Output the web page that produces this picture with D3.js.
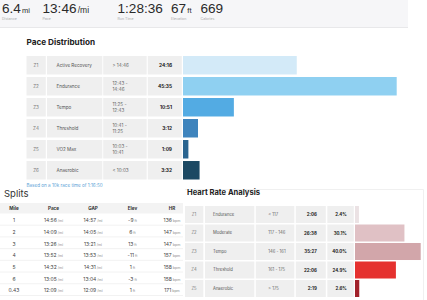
<!DOCTYPE html>
<html>
<head>
<meta charset="utf-8">
<script src="https://cdn.jsdelivr.net/npm/d3@7"></script>
<style>
  body { margin: 0; background: #fff; }
  svg { display: block; font-family: Inter, "Liberation Sans", sans-serif; }
</style>
</head>
<body>
<div class="chart"></div>
<script>
const width = 427;
const height = 300;

// top summary
const statValues = ['6.4', '13:46', '1:28:36', '67', '669'];
const statUnits = ['mi', '/mi', '', 'ft', ''];
const statLabels = ['Distance', 'Pace', 'Run Time', 'Elevation', 'Calories'];

// pace distribution
const paceZones = ['Z1', 'Z2', 'Z3', 'Z4', 'Z5', 'Z6'];
const paceNames = ['Active Recovery', 'Endurance', 'Tempo', 'Threshold', 'VO2 Max', 'Anaerobic'];
const paceRanges = [['> 14:46'], ['12:43 -', '14:46'], ['11:25 -', '12:43'], ['10:41 -', '11:25'], ['10:03 -', '10:41'], ['< 10:03']];
const paceTimes = ['24:16', '45:35', '10:51', '3:12', '1:09', '3:32'];
const paceColors = ['#d3eaf8', '#8fd0f1', '#53abe3', '#3e84bd', '#2b6590', '#1c4963'];

// splits
const splitMiles = ['1', '2', '3', '4', '5', '6', '0.43'];
const splitPace = ['14:56', '14:09', '13:26', '13:52', '14:32', '13:05', '12:09'];
const splitGap = ['14:57', '14:05', '13:21', '13:53', '14:31', '13:04', '12:09'];
const splitElev = [-9, 6, 13, -11, 1, -3, 1];
const splitHr = [136, 147, 147, 157, 158, 158, 171];

// heart rate
const hrZones = ['Z1', 'Z2', 'Z3', 'Z4', 'Z5'];
const hrNames = ['Endurance', 'Moderate', 'Tempo', 'Threshold', 'Anaerobic'];
const hrRanges = ['< 117', '117 - 146', '146 - 161', '161 - 175', '> 175'];
const hrTimes = ['2:06', '26:38', '35:27', '22:06', '2:19'];
const hrPct = [2.4, 30.1, 40.0, 24.9, 2.6];
const hrColors = ['#ebe2e4', '#e0c1c5', '#d2a6aa', '#e5312f', '#a1212a'];

const toSec = (s) => s.split(':').reduce((a, b) => a * 60 + Number(b), 0);

const svg = d3.select('.chart').append('svg')
    .attr('width', width)
    .attr('height', height);

/* summary band */
svg.append('rect').attr('x', 0).attr('y', 0).attr('width', 408).attr('height', 27).attr('fill', '#f6f6f8');
svg.append('line').attr('x1', 0).attr('x2', 408).attr('y1', 27.5).attr('y2', 27.5).attr('stroke', '#e8e8ea');

const statX = [2, 42.5, 117.5, 171, 200.5];
statValues.forEach((v, i) => {
    const t = svg.append('text')
        .attr('x', statX[i]).attr('y', 12.5)
        .attr('font-family', '"Liberation Sans", Arial, sans-serif')
        .attr('fill', '#2a2a2a').attr('font-size', 13.6);
    t.append('tspan').text(v);
    if (statUnits[i]) t.append('tspan').attr('font-size', statUnits[i] === '/mi' ? 8.5 : 7.5).attr('dx', 1.2).text(statUnits[i]);
    svg.append('text').attr('x', statX[i]).attr('y', 20)
        .attr('fill', '#aaa').attr('font-size', 3.6).text(statLabels[i]);
});

/* pace distribution */
svg.append('text').attr('x', 26.5).attr('y', 44.5)
    .attr('font-size', 8.2).attr('font-weight', 700).attr('fill', '#222')
    .text('Pace Distribution');

const paceY = d3.scaleBand().domain(paceZones).range([56, 179.5]).paddingInner(0.12);
const paceX = d3.scaleLinear().domain([0, d3.max(paceTimes, toSec)]).range([0, 213.7]);

const paceCols = [[26.5, 19.3], [47, 55.3], [103.2, 43.5], [147.8, 34]];
const paceRows = svg.append('g').selectAll('g').data(paceZones).enter().append('g')
    .attr('transform', (d) => `translate(0, ${paceY(d)})`);
paceCols.forEach((c) => {
    paceRows.append('rect').attr('x', c[0]).attr('width', c[1])
        .attr('height', paceY.bandwidth()).attr('fill', '#efefef');
});
const mid = paceY.bandwidth() / 2;
paceRows.append('text').attr('x', 36).attr('y', mid).attr('dy', '0.35em')
    .attr('text-anchor', 'middle').attr('font-size', 4.6).attr('fill', '#777').text((d) => d);
paceRows.append('text').attr('x', 56.5).attr('y', mid).attr('dy', '0.35em')
    .attr('font-size', 4.6).attr('fill', '#555').text((d, i) => paceNames[i]);
paceRows.append('text').attr('x', 112.5).attr('font-size', 4.6).attr('fill', '#666')
    .each(function (d, i) {
        const lines = paceRanges[i];
        d3.select(this).selectAll('tspan').data(lines).enter().append('tspan')
            .attr('x', 112.5)
            .attr('y', (l, j) => mid + (j - (lines.length - 1) / 2) * 5.6)
            .attr('dy', '0.35em')
            .text((l) => l);
    });
paceRows.append('text').attr('x', 172).attr('y', mid).attr('dy', '0.35em')
    .attr('text-anchor', 'end').attr('font-size', 4.8).attr('font-weight', 700).attr('fill', '#222')
    .text((d, i) => paceTimes[i]);
paceRows.append('rect').attr('x', 183)
    .attr('width', (d, i) => paceX(toSec(paceTimes[i])))
    .attr('height', paceY.bandwidth())
    .attr('fill', (d, i) => paceColors[i]);

svg.append('text').attr('x', 26.5).attr('y', 186.5)
    .attr('font-size', 4.6).attr('fill', '#5b9fd6')
    .text('Based on a 10k race time of 1:16:50');

/* splits */
svg.append('text').attr('x', 4).attr('y', 196.5)
    .attr('font-size', 9.5).attr('fill', '#333').text('Splits');

const splitHeaders = ['Mile', 'Pace', 'GAP', 'Elev', 'HR'];
const splitX = d3.scalePoint().domain(splitHeaders).range([14, 172]);
const splitY = d3.scaleBand().domain(d3.range(splitMiles.length)).range([214, 296]);

svg.append('rect').attr('x', 0).attr('y', 203).attr('width', 183).attr('height', 10.5).attr('fill', '#f3f3f3');
svg.append('g').selectAll('text').data(splitHeaders).enter().append('text')
    .attr('x', (d) => splitX(d)).attr('y', 210)
    .attr('text-anchor', 'middle').attr('font-size', 4.6).attr('font-weight', 700).attr('fill', '#333')
    .text((d) => d);

const splitRows = svg.append('g').selectAll('g').data(splitMiles).enter().append('g')
    .attr('transform', (d, i) => `translate(0, ${splitY(i)})`);
splitRows.append('line').attr('x1', 0).attr('x2', 183)
    .attr('y1', splitY.bandwidth() - 0.5).attr('y2', splitY.bandwidth() - 0.5)
    .attr('stroke', '#f2f2f2');
const sy = splitY.bandwidth() / 2 + 0.5;
function cell(key, val, unit) {
    const t = splitRows.append('text').attr('x', splitX(key)).attr('y', sy).attr('dy', '0.35em')
        .attr('text-anchor', 'middle').attr('font-size', 5).attr('fill', '#444');
    t.append('tspan').text(val);
    if (unit) t.append('tspan').attr('font-size', 3.6).attr('fill', '#888').text(unit);
}
cell('Mile', (d) => d);
cell('Pace', (d, i) => splitPace[i], (d) => ' /mi');
cell('GAP', (d, i) => splitGap[i], (d) => ' /mi');
cell('Elev', (d, i) => splitElev[i], (d) => ' ft');
cell('HR', (d, i) => splitHr[i], (d) => ' bpm');

/* heart rate analysis */
svg.append('path').attr('d', 'M185,189.5H423.5V300').attr('fill', 'none').attr('stroke', '#f0f0f0');
svg.append('text').attr('x', 187).attr('y', 195)
    .attr('font-size', 7.6).attr('font-weight', 700).attr('fill', '#222')
    .text('Heart Rate Analysis');

const hrY = d3.scaleBand().domain(hrZones).range([206, 297]).paddingInner(0.08);
const hrX = d3.scaleLinear().domain([0, 40]).range([0, 65.7]);
const hrCols = [[185, 18.3], [205, 49.3], [255.8, 38.5], [295.8, 30], [327.3, 26.5]];
const hrRows = svg.append('g').selectAll('g').data(hrZones).enter().append('g')
    .attr('transform', (d) => `translate(0, ${hrY(d)})`);
hrCols.forEach((c) => {
    hrRows.append('rect').attr('x', c[0]).attr('width', c[1])
        .attr('height', hrY.bandwidth()).attr('fill', '#efefef');
});
const hm = hrY.bandwidth() / 2;
hrRows.append('text').attr('x', 194).attr('y', hm).attr('dy', '0.35em')
    .attr('text-anchor', 'middle').attr('font-size', 4.2).attr('fill', '#777').text((d) => d);
hrRows.append('text').attr('x', 213).attr('y', hm).attr('dy', '0.35em')
    .attr('font-size', 4.2).attr('fill', '#555').text((d, i) => hrNames[i]);
hrRows.append('text').attr('x', 268.3).attr('y', hm).attr('dy', '0.35em')
    .attr('font-size', 4.2).attr('fill', '#666').text((d, i) => hrRanges[i]);
hrRows.append('text').attr('x', 316.8).attr('y', hm).attr('dy', '0.35em')
    .attr('text-anchor', 'end').attr('font-size', 4.4).attr('font-weight', 700).attr('fill', '#222')
    .text((d, i) => hrTimes[i]);
hrRows.append('text').attr('x', 346.8).attr('y', hm).attr('dy', '0.35em')
    .attr('text-anchor', 'end').attr('font-size', 4.4).attr('font-weight', 700).attr('fill', '#222')
    .text((d, i) => hrPct[i].toFixed(1) + '%');
hrRows.append('rect').attr('x', 355)
    .attr('width', (d, i) => hrX(hrPct[i]))
    .attr('height', hrY.bandwidth())
    .attr('fill', (d, i) => hrColors[i]);
</script>
</body>
</html>
